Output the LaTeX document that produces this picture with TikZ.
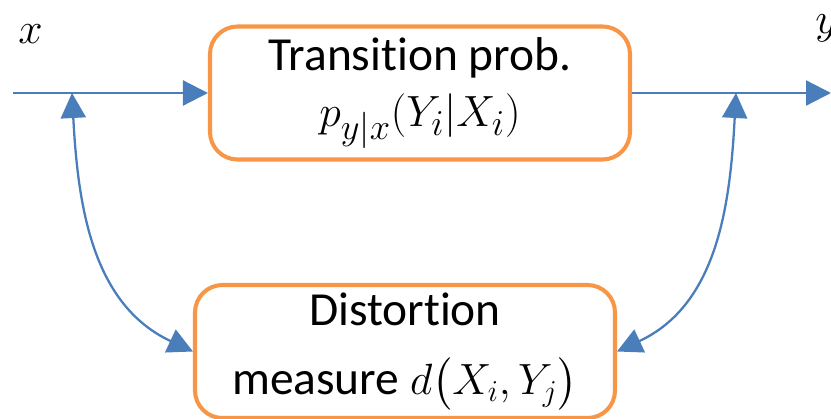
\documentclass[tikz,border=0pt]{standalone}
\usepackage{amsmath}
\usepackage{fontspec}
\setmainfont[Ligatures={NoCommon}]{Carlito}
\usetikzlibrary{arrows.meta, positioning}
\definecolor{mBlue}{HTML}{4A7EBB}
\definecolor{mOrange}{HTML}{F79646}

\begin{document}
\begin{tikzpicture}[
  block/.style={draw=mOrange, line width=2.3pt, rounded corners=0.55cm, fill=white,
    minimum width=8.4cm, minimum height=2.66cm, align=center, inner sep=0pt,
    font=\fontsize{27}{32}\selectfont},
  sig/.style={mBlue, line width=1.3pt, -{Triangle[length=0.5cm, width=0.5cm]}},
  tie/.style={mBlue, line width=1.3pt, {Triangle[length=0.5cm, width=0.5cm]}-{Triangle[length=0.5cm, width=0.5cm]}},
  lbl/.style={font=\fontsize{28}{32}\selectfont, inner sep=0pt}
]
  % 1 px = 0.02 cm, origin at bottom left
  \useasboundingbox (0,0) rectangle (16.62,8.36);
  % boxes
  \node[block] (trans) at (8.40,6.5) {Transition prob.\\ {\fontsize{31}{32}\selectfont$p_{y|x}(Y_i|X_i)$}};
  \node[block] (dist) at (8.10,1.33) {Distortion\\[7pt] measure $d\bigl(X_i,Y_j\bigr)$};
  % signal line
  \coordinate (xin) at (0.26,6.5);
  \coordinate (yout) at (16.62,6.5);
  \coordinate (tapx) at (1.44,6.5);
  \coordinate (tapy) at (14.72,6.5);
  \draw[sig] (xin) -- (trans.west);
  \draw[sig] (trans.east) -- (yout);
  \node[lbl, anchor=base west] (xlbl) at (0.36,7.5) {$x$};
  \node[lbl, anchor=base west] (ylbl) at (16.30,7.7) {$y$};
  % links to the distortion measure
  \draw[tie] (tapx) to[out=-87, in=155] (dist.west);
  \draw[tie] (tapy) to[out=-93, in=25] (dist.east);
\end{tikzpicture}
\end{document}
